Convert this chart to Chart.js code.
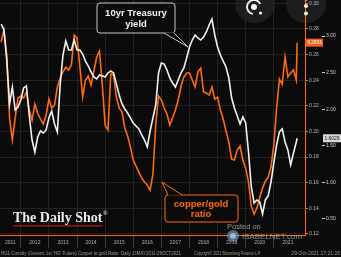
<!DOCTYPE html>
<html><head><meta charset="utf-8">
<script src="https://cdn.jsdelivr.net/npm/chart.js@4.4.0/dist/chart.umd.min.js"></script>
<style>html,body{margin:0;padding:0;background:#0b0b0b;}canvas{display:block;}</style>
</head><body>
<canvas id="c" width="341" height="257"></canvas>
<script>
// decimal-year sample dates
const dates = [
 2011.3,2011.4,2011.5,2011.6,2011.7,2011.8,2011.9,
 2012.0,2012.1,2012.2,2012.3,2012.4,2012.5,2012.6,2012.7,2012.8,2012.9,
 2013.0,2013.1,2013.2,2013.3,2013.4,2013.5,2013.6,2013.7,2013.8,2013.9,
 2014.0,2014.1,2014.2,2014.3,2014.4,2014.5,2014.6,2014.7,2014.8,2014.9,
 2015.0,2015.1,2015.2,2015.3,2015.4,2015.5,2015.6,2015.7,2015.8,2015.9,
 2016.0,2016.1,2016.2,2016.3,2016.4,2016.5,2016.6,2016.7,2016.8,2016.9,
 2017.0,2017.1,2017.2,2017.3,2017.4,2017.5,2017.6,2017.7,2017.8,2017.9,
 2018.0,2018.1,2018.2,2018.3,2018.4,2018.5,2018.6,2018.7,2018.8,2018.9,
 2019.0,2019.1,2019.2,2019.3,2019.4,2019.5,2019.6,2019.7,2019.8,2019.9,
 2020.0,2020.1,2020.2,2020.3,2020.4,2020.5,2020.6,2020.7,2020.8,2020.9,
 2021.0,2021.1,2021.2,2021.3,2021.4,2021.5,2021.6,2021.7,2021.8,2021.83
];
// copper / gold ratio (orange axis)
const copperGold = [
 0.2698,0.2792,0.2597,0.2105,0.1933,0.2105,0.2261,
 0.2277,0.2261,0.2308,0.2167,0.2089,0.2214,0.2144,0.2097,0.2058,0.2128,
 0.2253,0.2183,0.2206,0.2347,0.2417,0.2464,0.2503,0.2480,0.2519,0.2753,
 0.2730,0.2511,0.2269,0.2402,0.2433,0.2362,0.2472,0.2581,0.2628,0.2362,
 0.2050,0.2011,0.2448,0.2441,0.2269,0.2183,0.2152,0.2027,0.1964,0.1878,
 0.1777,0.1730,0.1683,0.1636,0.1605,0.1581,0.1542,0.1667,0.2050,0.2277,
 0.2245,0.2183,0.2136,0.2050,0.2105,0.2167,0.2245,0.2355,0.2425,0.2456,
 0.2456,0.2402,0.2347,0.2464,0.2495,0.2308,0.2300,0.2284,0.2347,0.2253,
 0.2269,0.2167,0.2097,0.2003,0.1917,0.1784,0.1777,0.1855,0.1886,0.1777,
 0.1714,0.1605,0.1417,0.1355,0.1402,0.1487,0.1558,0.1612,0.1644,0.1722,
 0.1894,0.2183,0.2409,0.2370,0.2581,0.2425,0.2456,0.2480,0.2402,0.2693
];
// US 10yr Treasury yield, % (far-right axis)
const tsyYield = [
 3.164,3.082,2.672,2.071,2.303,1.989,2.030,
 2.126,2.290,2.317,1.921,1.579,1.415,1.620,1.702,1.675,1.716,
 1.880,1.975,1.798,1.689,2.331,2.740,2.932,2.809,2.809,2.945,
 2.809,2.809,2.754,2.658,2.590,2.508,2.440,2.413,2.467,2.454,
 2.440,2.495,2.522,2.495,2.344,2.194,2.071,2.003,1.948,1.880,
 1.811,1.770,1.730,1.648,1.579,1.484,1.702,1.880,2.057,2.495,
 2.631,2.617,2.536,2.426,2.358,2.303,2.399,2.495,2.563,2.699,
 2.850,2.945,3.014,2.973,2.945,2.986,3.055,3.150,3.232,3.014,
 2.850,2.740,2.658,2.577,2.426,2.153,2.016,1.907,1.798,1.893,
 1.811,1.415,0.937,0.719,0.760,0.732,0.568,0.760,0.814,1.005,
 1.265,1.511,1.689,1.730,1.552,1.443,1.238,1.402,1.552,1.6029
];
const ratioTicks = [0.12,0.14,0.16,0.18,0.20,0.22,0.24,0.26,0.28,0.30];
const yieldTicks = [0.5,1.0,1.5,2.0,2.5,3.0];
const yearBounds = [2012,2013,2014,2015,2016,2017,2018,2019,2020,2021];
const yearLabelPos = [2011.63,2012.5,2013.5,2014.5,2015.5,2016.5,2017.5,2018.5,2019.5,2020.5,2021.5];
const yearLabels = ['2011','2012','2013','2014','2015','2016','2017','2018','2019','2020','2021'];

const ORANGE = '#ff6a10';
const SANS = "'Liberation Sans', Arial, sans-serif";
Chart.defaults.font.family = SANS;

function noPad(s){ s.paddingTop=0; s.paddingBottom=0; s.paddingLeft=0; s.paddingRight=0; }

function rr(ctx,x,y,w,h,r){
  ctx.beginPath();
  ctx.moveTo(x+r,y); ctx.lineTo(x+w-r,y); ctx.quadraticCurveTo(x+w,y,x+w,y+r);
  ctx.lineTo(x+w,y+h-r); ctx.quadraticCurveTo(x+w,y+h,x+w-r,y+h);
  ctx.lineTo(x+r,y+h); ctx.quadraticCurveTo(x,y+h,x,y+h-r);
  ctx.lineTo(x,y+r); ctx.quadraticCurveTo(x,y,x+r,y); ctx.closePath();
}

const decor = {
  id: 'decor',
  beforeDraw(chart){
    const ctx = chart.ctx;
    ctx.save();
    ctx.fillStyle = '#0b0b0b';
    ctx.fillRect(0,0,chart.width,chart.height);
    ctx.fillStyle = 'rgba(46,46,50,0.55)';
    ctx.beginPath(); ctx.arc(255,3,20,0,Math.PI*2); ctx.fill();
    ctx.beginPath(); ctx.arc(306,3,20,0,Math.PI*2); ctx.fill();
    ctx.restore();
  },
  afterDraw(chart){
    const ctx = chart.ctx;
    ctx.save();
    // callout: 10yr Treasury yield
    rr(ctx,97,3,78,30,3);
    ctx.fillStyle = '#0b0b0b'; ctx.fill();
    ctx.strokeStyle = '#c8c8c8'; ctx.lineWidth = 1; ctx.stroke();
    ctx.beginPath(); ctx.moveTo(164,32.5); ctx.lineTo(188,47); ctx.lineTo(174,32.5); ctx.closePath();
    ctx.fillStyle = '#0b0b0b'; ctx.fill();
    ctx.beginPath(); ctx.moveTo(164,33); ctx.lineTo(188,47); ctx.lineTo(174,33); ctx.stroke();
    ctx.fillStyle = '#f4f4f4'; ctx.font = 'bold 9.5px ' + SANS;
    ctx.textAlign = 'center'; ctx.textBaseline = 'middle';
    ctx.fillText('10yr Treasury', 136, 13);
    ctx.fillText('yield', 136, 24);
    // callout: copper/gold ratio
    rr(ctx,165,195,73,27,3);
    ctx.fillStyle = '#0b0b0b'; ctx.fill();
    ctx.strokeStyle = ORANGE; ctx.stroke();
    ctx.beginPath(); ctx.moveTo(168,195.5); ctx.lineTo(162,182); ctx.lineTo(182,195.5); ctx.closePath();
    ctx.fillStyle = '#0b0b0b'; ctx.fill();
    ctx.beginPath(); ctx.moveTo(168,195); ctx.lineTo(162,182); ctx.lineTo(182,195); ctx.stroke();
    ctx.fillStyle = ORANGE;
    ctx.fillText('copper/gold', 201, 204);
    ctx.fillText('ratio', 201, 214);
    // logo
    ctx.textAlign = 'left'; ctx.textBaseline = 'alphabetic';
    ctx.fillStyle = '#ececec'; ctx.font = "bold 14px 'Liberation Serif', 'Times New Roman', serif";
    ctx.fillText('The Daily Shot', 13, 222);
    const lw = ctx.measureText('The Daily Shot').width;
    ctx.font = "bold 6px 'Liberation Serif', serif";
    ctx.fillText('\u00AE', 13 + lw + 0.5, 215);
    ctx.fillStyle = '#8a1a1a'; ctx.fillRect(13, 225, lw, 1.6);
    // watermark
    ctx.fillStyle = 'rgba(205,205,205,0.7)'; ctx.font = '7.5px ' + SANS;
    ctx.fillText('Posted on', 227, 228.5);
    ctx.fillStyle = 'rgba(100,140,180,0.75)';
    ctx.beginPath(); ctx.arc(233,236,6,0,Math.PI*2); ctx.fill();
    ctx.fillStyle = 'rgba(210,225,240,0.6)';
    ctx.beginPath(); ctx.arc(233,236,3,0,Math.PI*2); ctx.fill();
    ctx.fillStyle = 'rgba(185,185,185,0.75)'; ctx.font = '8px ' + SANS;
    ctx.fillText('ISABELNET.com', 242, 239, 60);
    // last-value tags
    const yR = chart.scales.y, yY = chart.scales.y2;
    const lastR = copperGold[copperGold.length-1];
    const lastY = tsyYield[tsyYield.length-1];
    const pr = yR.getPixelForValue(lastR);
    ctx.fillStyle = '#e8621c'; ctx.fillRect(yR.left+1, pr-4, 17, 8);
    ctx.fillStyle = '#ffffff'; ctx.font = '5px ' + SANS; ctx.textBaseline = 'middle';
    ctx.fillText(lastR.toFixed(4), yR.left+2.5, pr+0.3, 14);
    const py = yY.getPixelForValue(lastY);
    ctx.fillStyle = '#d8d8d8'; ctx.fillRect(yY.left+1, py-4, 18, 8);
    ctx.fillStyle = '#111'; ctx.fillText(lastY.toFixed(4), yY.left+2.5, py+0.3, 15);
    // footer
    ctx.textBaseline = 'alphabetic';
    ctx.fillStyle = '#9c9c9c'; ctx.font = '5px ' + SANS;
    ctx.fillText("HG1 Comdty (Generic 1st 'HG' Future) Copper to gold Ratio  Daily 13MAY2011-29OCT2021", 1, 254.5, 180);
    ctx.fillText('Copyright\u00A9 2021 Bloomberg Finance L.P.', 194, 254.5, 67);
    ctx.textAlign = 'right';
    ctx.fillText('29-Oct-2021 17:21:26', 340, 254.5, 52);
    // UI icons
    ctx.strokeStyle = '#f4f4f4'; ctx.fillStyle = '#f4f4f4'; ctx.lineWidth = 1.8;
    ctx.beginPath(); ctx.arc(254,7,7,0.55*Math.PI,1.85*Math.PI); ctx.stroke();
    ctx.beginPath(); ctx.arc(254,7,3,0,Math.PI*2); ctx.fill();
    ctx.beginPath(); ctx.arc(260.5,13,1.6,0,Math.PI*2); ctx.fill();
    ctx.beginPath(); ctx.arc(306,6,2,0,Math.PI*2); ctx.fill();
    ctx.beginPath(); ctx.arc(306,13.5,2,0,Math.PI*2); ctx.fill();
    ctx.beginPath(); ctx.arc(306,-1.5,2,0,Math.PI*2); ctx.fill();
    ctx.restore();
  }
};

new Chart(document.getElementById('c'), {
  type: 'line',
  data: {
    datasets: [
      { label: '10yr Treasury yield', data: dates.map((d,i)=>({x:d, y:tsyYield[i]})),
        borderColor: '#f2f2f2', borderWidth: 1.6, pointRadius: 0, tension: 0,
        xAxisID: 'x', yAxisID: 'y2' },
      { label: 'copper/gold ratio', data: dates.map((d,i)=>({x:d, y:copperGold[i]})),
        borderColor: ORANGE, borderWidth: 1.6, pointRadius: 0, tension: 0,
        xAxisID: 'x', yAxisID: 'y' }
    ]
  },
  options: {
    responsive: false, animation: false, devicePixelRatio: 1,
    layout: { padding: { left: 0, right: 0, top: 0, bottom: 9 } },
    plugins: { legend: { display: false }, tooltip: { enabled: false } },
    scales: {
      x: {
        type: 'linear', position: 'bottom', weight: 1, min: 2011.26, max: 2022.11,
        afterBuildTicks: s => { s.ticks = yearLabelPos.map(v => ({value: v})); },
        ticks: { autoSkip: false, maxRotation: 0, font: { size: 5 }, color: '#b0b0b0', padding: 5,
                 callback: (v, i) => yearLabels[i] },
        grid: { display: false, drawTicks: false },
        border: { display: true, color: ORANGE, width: 1 },
        afterFit: s => { s.height = 13; noPad(s); }
      },
      xg: {
        type: 'linear', position: 'bottom', weight: 0, min: 2011.26, max: 2022.11,
        afterBuildTicks: s => { s.ticks = yearBounds.map(v => ({value: v})); },
        ticks: { display: false },
        grid: { display: true, color: '#232323', tickColor: '#3a3a3a', tickLength: 13, drawOnChartArea: true },
        border: { display: false },
        afterFit: s => { s.height = 0; noPad(s); }
      },
      y: {
        position: 'right', weight: 0, min: 0.1192, max: 0.3026,
        afterBuildTicks: s => { s.ticks = ratioTicks.map(v => ({value: v})); },
        ticks: { font: { size: 5 }, color: '#bdbdbd', padding: 1, callback: v => v.toFixed(2) },
        grid: { color: '#222222', tickColor: ORANGE, tickLength: 3 },
        border: { display: true, color: ORANGE, width: 1 },
        afterFit: s => { s.width = 17; noPad(s); }
      },
      y2: {
        position: 'right', weight: 1, min: 0.281, max: 3.492,
        afterBuildTicks: s => { s.ticks = yieldTicks.map(v => ({value: v})); },
        ticks: { font: { size: 5 }, color: '#cfcfcf', padding: 1, callback: v => v.toFixed(2) },
        grid: { drawOnChartArea: false, tickColor: '#cfcfcf', tickLength: 3 },
        border: { display: false },
        afterFit: s => { s.width = 19; noPad(s); }
      }
    }
  },
  plugins: [decor]
});
</script>
</body></html>
